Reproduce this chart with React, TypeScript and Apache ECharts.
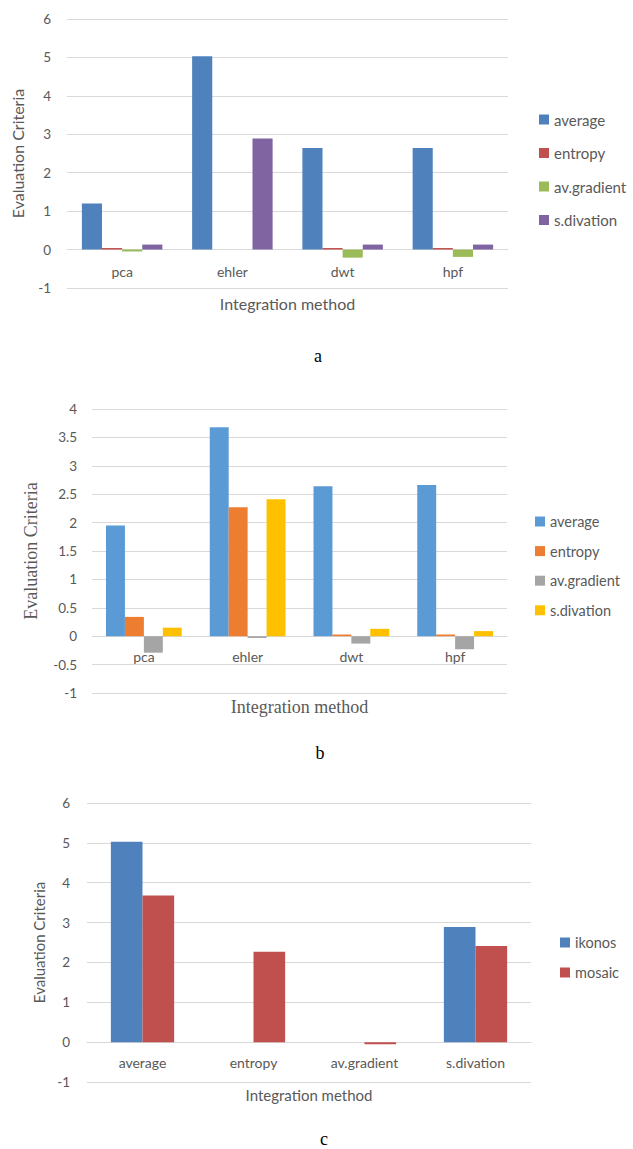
import React, { useEffect, useRef } from "react";
import * as echarts from "echarts";

// ---- data ----
const categoriesAB = ["pca", "ehler", "dwt", "hpf"];
const seriesNamesAB = ["average", "entropy", "av.gradient", "s.divation"];

const aAverage = [1.2, 5.03, 2.64, 2.64];
const aEntropy = [0.04, 0, 0.04, 0.04];
const aGradient = [-0.05, 0, -0.21, -0.19];
const aDeviation = [0.13, 2.89, 0.13, 0.13];

const bAverage = [1.95, 3.68, 2.64, 2.66];
const bEntropy = [0.34, 2.27, 0.03, 0.03];
const bGradient = [-0.29, -0.03, -0.13, -0.23];
const bDeviation = [0.15, 2.41, 0.13, 0.09];

const categoriesC = ["average", "entropy", "av.gradient", "s.divation"];
const seriesNamesC = ["ikonos", "mosaic"];
const cIkonos = [5.03, 0, 0, 2.89];
const cMosaic = [3.68, 2.27, -0.05, 2.41];

const colorsA = ["#4F81BD", "#C0504D", "#9BBB59", "#8064A2"];
const colorsB = ["#5B9BD5", "#ED7D31", "#A5A5A5", "#FFC000"];
const colorsC = ["#4F81BD", "#C0504D"];

const SANS = "Lato";
const SERIF = "Liberation Serif";
const GRAY = "#595959";
const GRID = "#d9d9d9";

function buildOption(cfg: any) {
  // the category axis sits on the value axis' zero line (Excel style)
  const zeroOffset = -((0 - cfg.yMin) / (cfg.yMax - cfg.yMin)) * cfg.grid.height;
  return {
    animation: false,
    color: cfg.colors,
    grid: cfg.grid,
    legend: {
      orient: "vertical",
      left: cfg.legend.left,
      top: cfg.legend.top,
      itemWidth: 10,
      itemHeight: 10,
      itemGap: cfg.legend.gap,
      selectedMode: false,
      icon: "rect",
      data: cfg.names,
      textStyle: { color: GRAY, fontFamily: SANS, fontSize: cfg.legend.fontSize, lineHeight: 14 },
    },
    xAxis: {
      type: "category",
      data: cfg.categories,
      offset: zeroOffset,
      axisLine: { show: true, onZero: false, lineStyle: { color: GRID } },
      axisTick: { show: false },
      axisLabel: { color: GRAY, fontFamily: SANS, fontSize: 14, margin: cfg.xLabelMargin },
      name: "Integration method",
      nameLocation: "middle",
      nameGap: cfg.xNameGap,
      nameTextStyle: { color: GRAY, fontFamily: cfg.titleFont, fontSize: cfg.titleSize },
      z: 0,
    },
    yAxis: {
      type: "value",
      min: cfg.yMin,
      max: cfg.yMax,
      interval: cfg.yInterval,
      axisLine: { show: false },
      axisTick: { show: false },
      axisLabel: { color: GRAY, fontFamily: SANS, fontSize: 13.5, margin: cfg.yLabelMargin },
      splitLine: { lineStyle: { color: GRID } },
      name: "Evaluation Criteria",
      nameLocation: "middle",
      nameGap: cfg.yNameGap,
      nameTextStyle: { color: GRAY, fontFamily: cfg.titleFont, fontSize: cfg.titleSize },
    },
    series: cfg.names.map((n: string, i: number) => ({
      name: n,
      type: "bar",
      data: cfg.values[i],
      barGap: "0%",
      barCategoryGap: cfg.catGap,
      itemStyle: { color: cfg.colors[i] },
      z: 3,
    })),
    graphic: [
      {
        type: "text",
        x: cfg.caption.x,
        y: cfg.caption.y,
        style: {
          text: cfg.caption.text,
          fill: "#000",
          font: `18px "${SERIF}"`,
          align: "center",
          verticalAlign: "middle",
        },
      },
    ],
  };
}

const configs = [
  {
    top: 0,
    height: 380,
    colors: colorsA,
    names: seriesNamesAB,
    categories: categoriesAB,
    values: [aAverage, aEntropy, aGradient, aDeviation],
    grid: { left: 67, right: 125, top: 19, height: 269 },
    legend: { left: 534, top: 107, gap: 18.5, fontSize: 15 },
    yMin: -1,
    yMax: 6,
    yInterval: 1,
    catGap: "27%",
    xLabelMargin: 15,
    yLabelMargin: 16,
    xNameGap: 46,
    yNameGap: 42,
    titleFont: SANS,
    titleSize: 16,
    caption: { text: "a", x: 318, y: 356 },
  },
  {
    top: 380,
    height: 390,
    colors: colorsB,
    names: seriesNamesAB,
    categories: categoriesAB,
    values: [bAverage, bEntropy, bGradient, bDeviation],
    grid: { left: 92, right: 126, top: 29, height: 284 },
    legend: { left: 530, top: 129, gap: 14.6, fontSize: 14.5 },
    yMin: -1,
    yMax: 4,
    yInterval: 0.5,
    catGap: "27%",
    xLabelMargin: 13,
    yLabelMargin: 15,
    xNameGap: 62,
    yNameGap: 52,
    titleFont: SERIF,
    titleSize: 18,
    caption: { text: "b", x: 320, y: 373 },
  },
  {
    top: 770,
    height: 379,
    colors: colorsC,
    names: seriesNamesC,
    categories: categoriesC,
    values: [cIkonos, cMosaic],
    grid: { left: 87, right: 102, top: 33, height: 279 },
    legend: { left: 555, top: 160, gap: 15, fontSize: 14.5 },
    yMin: -1,
    yMax: 6,
    yInterval: 1,
    catGap: "43%",
    xLabelMargin: 13,
    yLabelMargin: 17,
    xNameGap: 45,
    yNameGap: 41,
    titleFont: SANS,
    titleSize: 15,
    caption: { text: "c", x: 324, y: 369 },
  },
];

function ChartPanel({ cfg }: { cfg: any }) {
  const ref = useRef<HTMLDivElement>(null);
  useEffect(() => {
    if (!ref.current) return;
    const chart = echarts.init(ref.current, undefined, { renderer: "svg" });
    chart.setOption(buildOption(cfg));
    return () => chart.dispose();
  }, [cfg]);
  return (
    <div
      ref={ref}
      style={{ position: "absolute", left: 0, top: cfg.top, width: 633, height: cfg.height }}
    />
  );
}

export default function App() {
  return (
    <div style={{ position: "absolute", left: 0, top: 0, width: 633, height: 1149, background: "#fff" }}>
      {configs.map((c, i) => (
        <ChartPanel key={i} cfg={c} />
      ))}
    </div>
  );
}
